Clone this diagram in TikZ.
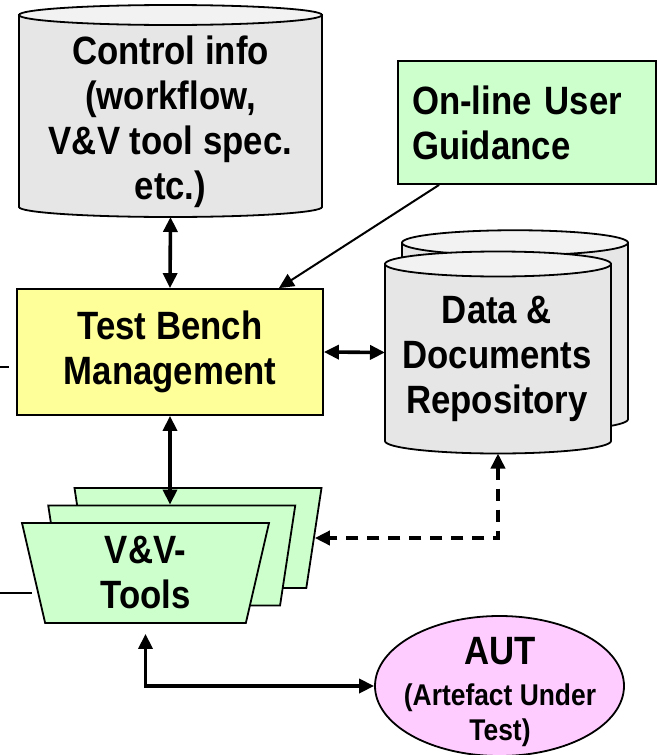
\documentclass[tikz,border=0pt]{standalone}
\usepackage{fontspec}
\setmainfont{Liberation Sans}[FakeStretch=0.88]
\usetikzlibrary{arrows.meta, calc, positioning, shapes.geometric}

\definecolor{storegray}{HTML}{E6E6E6}
\definecolor{storecap}{HTML}{F2F2F2}
\definecolor{benchyellow}{HTML}{FFFF99}
\definecolor{toolgreen}{HTML}{CCFFCC}
\definecolor{autpink}{HTML}{FFCCFF}

\tikzset{
  boxtext/.style={font=\fontsize{39.5}{45}\selectfont\bfseries, align=center},
  outline/.style={draw, line width=1.8pt},
  store/.style={outline, fill=storegray},
  storetop/.style={outline, fill=storecap},
  storeslot/.style={inner sep=0pt, outer sep=0pt},
  mgmtbox/.style={outline, fill=benchyellow, minimum width=306pt, minimum height=126pt, boxtext},
  guidebox/.style={outline, fill=toolgreen, minimum width=258pt, minimum height=123pt,
    text width=230pt, inner xsep=14pt, boxtext, align=left},
  toolshape/.style={trapezium, shape border rotate=180, trapezium left angle=74,
    trapezium right angle=74, trapezium stretches body=true, minimum width=247pt,
    minimum height=100pt, inner sep=4pt, outline, fill=toolgreen, boxtext},
  autshape/.style={ellipse, outline, fill=autpink, minimum width=249pt, minimum height=140pt, inner sep=0pt},
  link/.style={<->, line width=3.6pt},
}

\begin{document}
\begin{tikzpicture}[x=1pt, y=-1pt, >={Triangle[length=15pt, width=14pt]}]
    \useasboundingbox (0,0) rectangle (657,755);

    % control info store
    \node[storeslot, minimum width=303pt, minimum height=212pt] (ctrl) at (170.5,111) {};
    \draw[store] ([yshift=-10pt]ctrl.north west) -- ([yshift=10pt]ctrl.south west)
        arc[start angle=180, end angle=0, x radius=151.5, y radius=10]
        -- ([yshift=-10pt]ctrl.north east) -- cycle;
    \draw[storetop] ([yshift=-10pt]ctrl.north) ellipse[x radius=151.5, y radius=10];
    \node[boxtext] (ctrltext) at (170.5,122) {Control info\\(workflow,\\V\&V tool spec.\\etc.)};

    % data & documents repository, two stores stacked
    \node[storeslot, minimum width=226pt, minimum height=201.5pt] (repoback) at (515,331) {};
    \draw[store] ([yshift=-12.5pt]repoback.north west) -- ([yshift=12.5pt]repoback.south west)
        arc[start angle=180, end angle=0, x radius=113, y radius=12.5]
        -- ([yshift=-12.5pt]repoback.north east) -- cycle;
    \draw[storetop] ([yshift=-12.5pt]repoback.north) ellipse[x radius=113, y radius=12.5];

    \node[storeslot, minimum width=226pt, minimum height=202pt] (repo) at (498,352.5) {};
    \draw[store] ([yshift=-12.5pt]repo.north west) -- ([yshift=12.5pt]repo.south west)
        arc[start angle=180, end angle=0, x radius=113, y radius=12.5]
        -- ([yshift=-12.5pt]repo.north east) -- cycle;
    \draw[storetop] ([yshift=-12.5pt]repo.north) ellipse[x radius=113, y radius=12.5];
    \node[boxtext] (repotext) at (497,359) {Data \&\\Documents\\Repository};

    % boxes
    \node[guidebox] (guide) at (527,122.5) {On-line User\\Guidance};
    \node[mgmtbox] (bench) at (170,352) {Test Bench\\Management};

    % tool stack, back to front
    \node[toolshape] (tools3) at (198,538) {\strut};
    \node[toolshape] (tools2) at (171.75,555.5) {\strut};
    \node[toolshape] (tools1) at (145.5,573) {V\&V-\\Tools};

    \node[autshape] (aut) at (499.5,686) {};
    \node[align=center, font=\fontsize{30}{35}\selectfont\bfseries] (auttext) at (500,692)
        {{\fontsize{39.5}{45}\selectfont AUT}\\[6pt](Artefact Under\\Test)};

    % links
    \draw[link] (ctrl.south) -- (bench.north);
    \draw[link] (bench.east) -- (repo.west);
    \draw[link] (bench.south) -- (bench.south |- tools2.north);
    \draw[link, dash pattern=on 12pt off 9pt] (repo.south) |- (tools3.left side);
    \draw[link, shorten <=10pt] (tools1.south) |- (aut.west);
    \draw[->, line width=2pt] ([xshift=42pt]guide.south west) -- ([xshift=-45pt]bench.north east);

    % lines coming in from the left
    \coordinate (stubA) at (0,367);
    \coordinate (stubB) at (0,593);
    \draw[outline] (stubA) -- ++(9,0);
    \draw[outline] (stubB) -- ++(32,0);
\end{tikzpicture}
\end{document}
